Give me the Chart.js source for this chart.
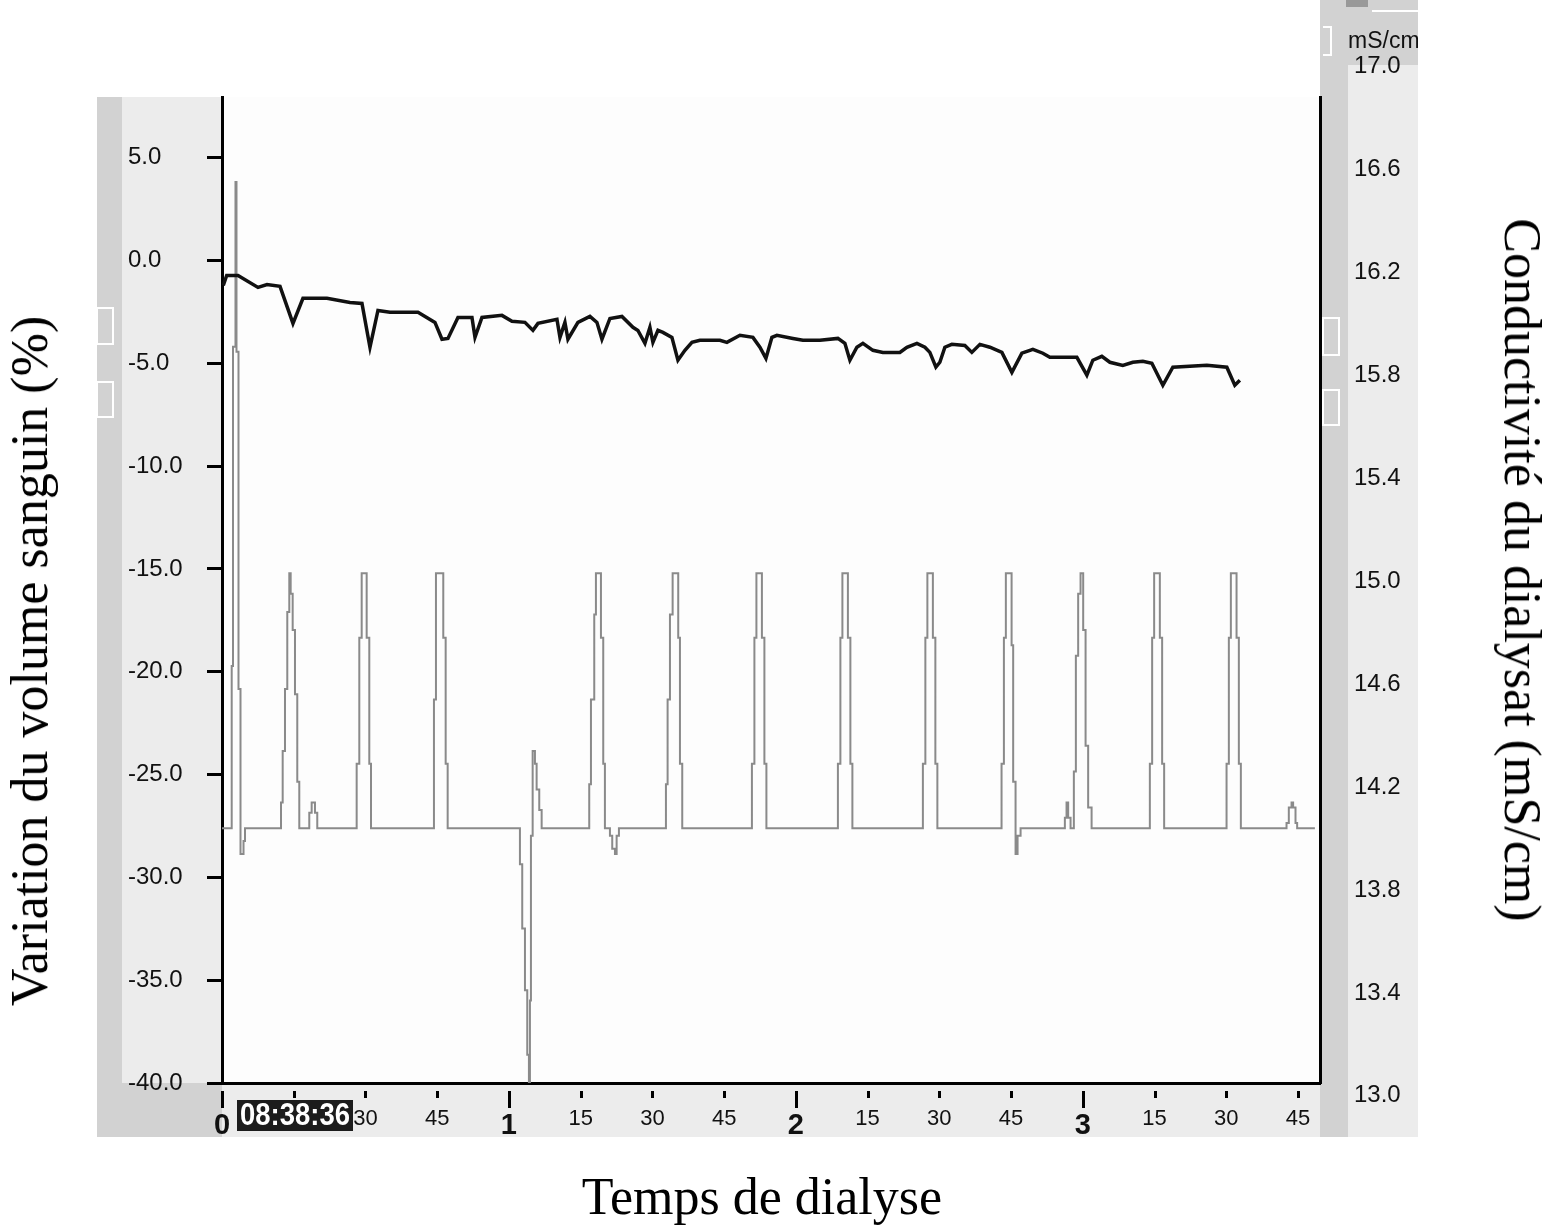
<!DOCTYPE html>
<html>
<head>
<meta charset="utf-8">
<script src="https://cdn.jsdelivr.net/npm/chart.js@4.4.1/dist/chart.umd.min.js"></script>
<style>
  html, body { margin: 0; padding: 0; background: #fff; overflow: hidden; }
  #wrap { position: relative; width: 1549px; height: 1225px; }
  .title {
    position: absolute;
    font-family: "Liberation Serif", "Times New Roman", serif;
    font-size: 52px;
    line-height: 1;
    white-space: nowrap;
    color: #000;
  }
</style>
</head>
<body>
<div id="wrap">
  <canvas id="chart"></canvas>
  <div class="title" style="left:30px; top:661px; transform: translate(-50%,-50%) rotate(-90deg);">Variation du volume sanguin (%)</div>
  <div class="title" style="left:1522px; top:570px; transform: translate(-50%,-50%) rotate(90deg);">Conductivité du dialysat (mS/cm)</div>
  <div class="title" style="left:762px; top:1197px; transform: translate(-50%,-50%);">Temps de dialyse</div>
</div>
<script>
// Tick values (time in minutes, hours shown as 1, 2, 3)
const timeTicks = [0, 15, 30, 45, 60, 75, 90, 105, 120, 135, 150, 165, 180, 195, 210, 225];
const volumeTicks = [-40, -35, -30, -25, -20, -15, -10, -5, 0, 5];
const condTicks = [13.0, 13.4, 13.8, 14.2, 14.6, 15.0, 15.4, 15.8, 16.2, 16.6, 17.0];

// Blood volume variation (%) - black trace
const volTime = [0.27, 0.98, 3.35, 7.53, 9.41, 12.13, 14.84, 16.93, 21.95, 26.76, 29.27, 30.94, 32.61, 35.12, 40.98,
  44.53, 46.0, 47.25, 49.34, 52.27, 52.9, 54.36, 58.54, 60.63, 63.35, 65.02, 66.07, 70.04, 70.67, 71.71, 72.34,
  74.43, 76.94, 78.4, 79.45, 81.12, 83.63, 85.93, 86.97, 88.44, 89.48, 90.11, 91.16, 92.2, 94.08, 95.34, 96.8,
  98.27, 99.94, 104.12, 105.58, 108.3, 111.02, 112.48, 113.74, 114.99, 116.04, 119.38, 121.47, 125.03, 128.79,
  130.25, 131.3, 132.76, 134.02, 136.11, 138.2, 141.75, 143.22, 145.31, 146.98, 148.02, 149.28, 150.11, 151.16,
  152.62, 155.34, 156.8, 158.48, 160.57, 163.08, 165.17, 167.26, 169.56, 171.65, 173.11, 178.76, 180.85, 182.1,
  183.98, 185.66, 188.37, 190.46, 192.56, 194.44, 196.74, 198.83, 205.94, 210.12, 211.79, 212.84];
const volValue = [-1.21, -0.73, -0.73, -1.31, -1.17, -1.26, -3.06, -1.84, -1.84, -2.04, -2.09, -4.22, -2.43, -2.52, -2.52,
  -3.01, -3.83, -3.79, -2.77, -2.77, -3.74, -2.77, -2.67, -2.96, -3.01, -3.40, -3.06, -2.86, -3.74, -3.01, -3.83,
  -3.01, -2.72, -3.01, -3.83, -2.82, -2.72, -3.25, -3.40, -4.03, -3.25, -3.98, -3.40, -3.50, -3.74, -4.85, -4.37,
  -3.98, -3.88, -3.88, -3.98, -3.64, -3.74, -4.22, -4.76, -3.74, -3.64, -3.79, -3.88, -3.88, -3.79,
  -4.03, -4.85, -4.22, -4.03, -4.37, -4.47, -4.47, -4.22, -4.03, -4.22, -4.47, -5.19, -4.95, -4.22,
  -4.08, -4.13, -4.47, -4.08, -4.22, -4.47, -5.44, -4.51, -4.32, -4.51, -4.71, -4.71, -5.58, -4.85,
  -4.66, -4.95, -5.10, -4.95, -4.90, -5.00, -6.07, -5.19, -5.10, -5.19, -6.07, -5.83];

// Dialysate conductivity (mS/cm) - grey trace, each value holds from its time on
const condTime = [0, 2.03, 2.30, 2.82, 3.03, 3.45, 3.87, 4.50, 4.81,
  12.34, 12.69, 13.17, 13.65, 14.07, 14.36, 14.78, 15.26, 15.74, 16.16,
  18.25, 18.75, 19.44, 19.92,
  28.16, 28.71, 29.21, 30.25, 30.80, 31.16,
  44.32, 44.74, 46.27, 46.77, 47.19,
  62.30, 62.78, 63.35, 63.83, 64.18, 64.39, 64.60, 64.96, 65.44, 65.79, 66.34, 66.84,
  76.79, 77.15, 77.84, 78.19, 79.24, 79.72, 80.07,
  81.12, 81.60, 82.17, 82.52, 83.00,
  92.83, 93.18, 93.67, 94.23, 95.40, 95.76, 96.24,
  110.81, 111.33, 111.75, 112.90, 113.42, 113.84,
  128.79, 129.31, 129.73, 130.88, 131.40, 131.82,
  146.56, 147.08, 147.50, 148.65, 149.17, 149.59,
  163.01, 163.50, 163.91, 165.11, 165.44, 165.94, 166.36, 166.99,
  176.25, 176.60, 176.94, 177.44, 178.13, 178.55, 179.03, 179.53, 180.08, 180.58, 181.12, 181.84,
  194.02, 194.50, 194.92, 196.11, 196.59, 197.01,
  210.06, 210.54, 210.96, 212.15, 212.63, 213.05,
  222.60, 223.08, 223.65, 223.98, 224.48, 224.82, 228.53];
const condValue = [14.04, 14.67, 15.91, 16.55, 15.89, 14.58, 13.94, 13.99, 14.04,
  14.14, 14.34, 14.58, 14.88, 15.03, 14.95, 14.81, 14.56, 14.22, 14.04,
  14.10, 14.14, 14.10, 14.04,
  14.29, 14.78, 15.03, 14.78, 14.29, 14.04,
  14.54, 15.03, 14.78, 14.29, 14.04,
  13.90, 13.65, 13.41, 13.16, 12.95, 13.37, 14.01, 14.34, 14.29, 14.19, 14.11, 14.04,
  14.21, 14.54, 14.87, 15.03, 14.78, 14.29, 14.04,
  14.01, 13.96, 13.94, 14.01, 14.04,
  14.21, 14.54, 14.87, 15.03, 14.78, 14.29, 14.04,
  14.29, 14.78, 15.03, 14.78, 14.29, 14.04,
  14.29, 14.78, 15.03, 14.78, 14.29, 14.04,
  14.29, 14.78, 15.03, 14.78, 14.29, 14.04,
  14.29, 14.78, 15.03, 14.75, 14.22, 13.94, 14.01, 14.04,
  14.08, 14.14, 14.08, 14.04, 14.26, 14.71, 14.95, 15.03, 14.81, 14.36, 14.12, 14.04,
  14.29, 14.78, 15.03, 14.78, 14.29, 14.04,
  14.29, 14.78, 15.03, 14.78, 14.29, 14.04,
  14.06, 14.12, 14.14, 14.12, 14.06, 14.04, 14.04];

const setTicks = (values) => (scale) => { scale.ticks = values.map(v => ({ value: v })); };

// grey monitor panels behind the axes
const panels = {
  id: 'panels',
  beforeDraw(chart) {
    const ctx = chart.ctx, a = chart.chartArea;
    const bottom = a.bottom + 54;
    ctx.save();
    ctx.fillStyle = '#fdfdfd';
    ctx.fillRect(a.left, a.top, a.right - a.left, a.bottom - a.top);
    ctx.fillStyle = '#d2d2d2';
    ctx.fillRect(97, a.top, a.left - 97, bottom - a.top);
    ctx.fillStyle = '#ececec';
    ctx.fillRect(122, a.top, a.left - 122, a.bottom - a.top);
    ctx.fillRect(a.left, a.bottom, a.right - a.left, bottom - a.bottom);
    ctx.fillStyle = '#d2d2d2';
    ctx.fillRect(a.right, 0, 1418 - a.right, bottom);
    ctx.fillStyle = '#ececec';
    ctx.fillRect(1348, 65, 70, bottom - 65);
    ctx.restore();
  },
  afterDraw(chart) {
    const ctx = chart.ctx, a = chart.chartArea, xs = chart.scales.x;
    ctx.save();
    // time axis tick marks
    ctx.strokeStyle = '#000';
    ctx.lineWidth = 3;
    xs.ticks.forEach(t => {
      const px = Math.round(xs.getPixelForValue(t.value)) + 0.5;
      const hour = t.value % 60 === 0;
      ctx.beginPath();
      ctx.moveTo(px, a.bottom + 8);
      ctx.lineTo(px, a.bottom + (hour ? 25 : 15));
      ctx.stroke();
    });
    // clock box
    ctx.fillStyle = '#1c1c1c';
    ctx.fillRect(237, a.bottom + 17, 116, 31);
    ctx.fillStyle = '#fff';
    ctx.font = 'bold 31px "Liberation Sans Narrow", "Liberation Sans", sans-serif';
    ctx.textBaseline = 'middle';
    const txt = '08:38:36';
    const w = ctx.measureText(txt).width;
    ctx.translate(240, a.bottom + 33);
    ctx.scale(110 / w, 1);
    ctx.fillText(txt, 0, 0);
    ctx.setTransform(1, 0, 0, 1, 0, 0);
    // unit label at top right
    ctx.beginPath();
    ctx.rect(1340, 20, 78, 40);
    ctx.clip();
    ctx.fillStyle = '#111';
    ctx.font = '23px "Liberation Sans", sans-serif';
    ctx.textBaseline = 'middle';
    ctx.fillText('mS/cm', 1348, 42);
    ctx.restore();
    // small window controls on the side panels
    ctx.save();
    ctx.strokeStyle = '#ffffff';
    ctx.lineWidth = 2;
    [[97, 308, 16, 36], [97, 382, 16, 35], [1323, 318, 16, 37], [1323, 390, 16, 35]].forEach(r => {
      ctx.strokeRect(r[0], r[1], r[2], r[3]);
    });
    ctx.beginPath();
    ctx.moveTo(1323, 27); ctx.lineTo(1331, 27); ctx.lineTo(1331, 55); ctx.lineTo(1323, 55);
    ctx.moveTo(1372, 11); ctx.lineTo(1418, 11);
    ctx.stroke();
    ctx.fillStyle = '#999';
    ctx.fillRect(1346, 0, 22, 7);
    ctx.restore();
  }
};

const tickFont = { family: '"Liberation Sans", Arial, sans-serif', size: 24 };

new Chart(document.getElementById('chart'), {
  type: 'line',
  data: {
    datasets: [
      {
        label: 'Volume sanguin',
        data: volTime.map((t, i) => ({ x: t, y: volValue[i] })),
        borderColor: '#111',
        borderWidth: 3.5,
        pointRadius: 0,
        tension: 0,
        yAxisID: 'y'
      },
      {
        label: 'Conductivité',
        data: condTime.map((t, i) => ({ x: t, y: condValue[i] })),
        borderColor: '#8a8a8a',
        borderWidth: 2,
        pointRadius: 0,
        stepped: true,
        yAxisID: 'y2'
      }
    ]
  },
  options: {
    responsive: true,
    maintainAspectRatio: false,
    animation: false,
    layout: { padding: { left: 128, right: 131, top: 97, bottom: 88 } },
    plugins: { legend: { display: false }, tooltip: { enabled: false } },
    scales: {
      x: {
        type: 'linear',
        position: 'bottom',
        min: 0,
        max: 229.6,
        afterBuildTicks: setTicks(timeTicks),
        afterFit: (s) => { s.height = 54; },
        grid: { display: false, drawTicks: false, tickLength: 0 },
        border: { display: true, color: '#000', width: 3 },
        ticks: {
          autoSkip: false,
          maxRotation: 0,
          padding: 23,
          color: '#111',
          font: (c) => (c.tick && c.tick.value % 60 === 0)
            ? { family: '"Liberation Sans", Arial, sans-serif', size: 29, weight: 'bold', lineHeight: 1.4 }
            : { family: '"Liberation Sans", Arial, sans-serif', size: 22 },
          callback: (v) => v % 60 === 0 ? String(v / 60) : String(v % 60)
        }
      },
      y: {
        type: 'linear',
        position: 'left',
        min: -40,
        max: 7.95,
        afterBuildTicks: setTicks(volumeTicks),
        afterFit: (s) => { s.width = 94; },
        grid: { drawOnChartArea: false, tickLength: 15, tickWidth: 3, tickColor: '#000' },
        border: { display: true, color: '#000', width: 3 },
        ticks: {
          autoSkip: false,
          crossAlign: 'far',
          padding: 0,
          color: '#111',
          font: tickFont,
          callback: (v) => v.toFixed(1)
        }
      },
      y2: {
        type: 'linear',
        position: 'right',
        min: 13.05,
        max: 16.88,
        afterBuildTicks: setTicks(condTicks),
        afterFit: (s) => { s.width = 98; },
        grid: { display: false, drawTicks: false, tickLength: 0 },
        border: { display: true, color: '#000', width: 3 },
        ticks: {
          autoSkip: false,
          padding: 34,
          color: '#111',
          font: tickFont,
          callback: (v) => v.toFixed(1)
        }
      }
    }
  },
  plugins: [panels]
});
</script>
</body>
</html>
